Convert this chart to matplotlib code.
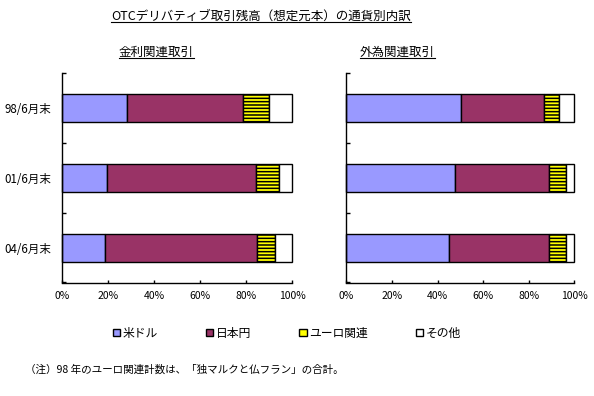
import matplotlib
matplotlib.use("Agg")
import matplotlib.pyplot as plt
from matplotlib.patches import Patch
from matplotlib.lines import Line2D
import numpy as np

plt.rcParams['font.family'] = ['Noto Sans CJK JP', 'DejaVu Sans']
plt.rcParams['hatch.linewidth'] = 1.1

title = "OTCデリバティブ取引残高（想定元本）の通貨別内訳"
panel_titles = ["金利関連取引", "外為関連取引"]
categories = ["98/6月末", "01/6月末", "04/6月末"]
series = ["米ドル", "日本円", "ユーロ関連", "その他"]

# percent shares, rows = categories
rate_usd = [28.3, 19.6, 18.7]
rate_jpy = [50.4, 64.6, 66.1]
rate_eur = [11.3, 9.9, 7.8]
rate_oth = [10.0, 5.9, 7.4]

fx_usd = [50.4, 47.8, 45.2]
fx_jpy = [36.4, 41.2, 43.8]
fx_eur = [6.3, 7.2, 7.2]
fx_oth = [6.9, 3.8, 3.8]

xticklabels = ["0%", "20%", "40%", "60%", "80%", "100%"]
note = "（注）98 年のユーロ関連計数は、「独マルクと仏フラン」の合計。"

colors = ["#9999FF", "#993366", "#FFFF00", "#FFFFFF"]
hatches = [None, None, "-----", None]

W, H = 594, 396
fig = plt.figure(figsize=(W / 100, H / 100), dpi=100)


def px_axes(x0, x1, ytop, ybot):
    return fig.add_axes([x0 / W, 1 - ybot / H, (x1 - x0) / W, (ybot - ytop) / H])


ax1 = px_axes(62.3, 292.3, 73.5, 282.5)
ax2 = px_axes(346.3, 574.3, 73.5, 282.5)

data_sets = [
    [rate_usd, rate_jpy, rate_eur, rate_oth],
    [fx_usd, fx_jpy, fx_eur, fx_oth],
]

y = np.arange(len(categories))
for ax, data in zip([ax1, ax2], data_sets):
    left = np.zeros(len(categories))
    for vals, c, h, name in zip(data, colors, hatches, series):
        vals = np.array(vals, dtype=float)
        bars = ax.barh(y, vals, left=left, height=0.4, color=c, edgecolor="black",
                       linewidth=1.0, hatch=h, label=name)
        for b in bars:
            b.set_clip_on(False)
        left += vals
    ax.set_xlim(0, 100)
    ax.set_ylim(2.5, -0.5)
    ax.spines['top'].set_visible(False)
    ax.spines['right'].set_visible(False)
    for s in ['left', 'bottom']:
        ax.spines[s].set_linewidth(1.0)
    ax.set_xticks(np.linspace(0, 100, 6))
    ax.set_xticklabels(xticklabels, fontsize=7.5)
    ax.tick_params(axis='x', direction='in', length=2.5, width=1.0, pad=6)
    ax.set_yticks(y)
    ax.set_yticks([-0.5, 0.5, 1.5, 2.5], minor=True)
    ax.tick_params(axis='y', which='major', length=0, pad=8)
    ax.tick_params(axis='y', which='minor', direction='in', length=3, width=1.0)
    ax.set_facecolor("none")

ax1.set_yticklabels(categories, fontsize=8.3)
ax2.set_yticklabels([])

t_main = fig.text(260.7 / W, 1 - 16 / H, title, ha='center', va='center', fontsize=9)
t_a = fig.text(156 / W, 1 - 52 / H, panel_titles[0], ha='center', va='center', fontsize=9)
t_b = fig.text(397.5 / W, 1 - 52 / H, panel_titles[1], ha='center', va='center', fontsize=9)
fig.text(25 / W, 1 - 370 / H, note, ha='left', va='center', fontsize=7.6)

handles = [Patch(facecolor=c, edgecolor='black', linewidth=1.0) for c in colors]
fig.legend(handles, series, loc='center', bbox_to_anchor=(287 / W, 1 - 333 / H),
           ncol=4, frameon=False, fontsize=8.5, handlelength=0.6, handleheight=0.6,
           handletextpad=0.2, columnspacing=4.1)

fig.canvas.draw()
renderer = fig.canvas.get_renderer()
for t in [t_main, t_a, t_b]:
    bb = t.get_window_extent(renderer)
    yline = bb.y0 + 1
    fig.add_artist(Line2D([bb.x0 / W, bb.x1 / W], [yline / H, yline / H],
                          transform=fig.transFigure, color='black', linewidth=0.8))

fig.savefig("out.png", dpi=100)
